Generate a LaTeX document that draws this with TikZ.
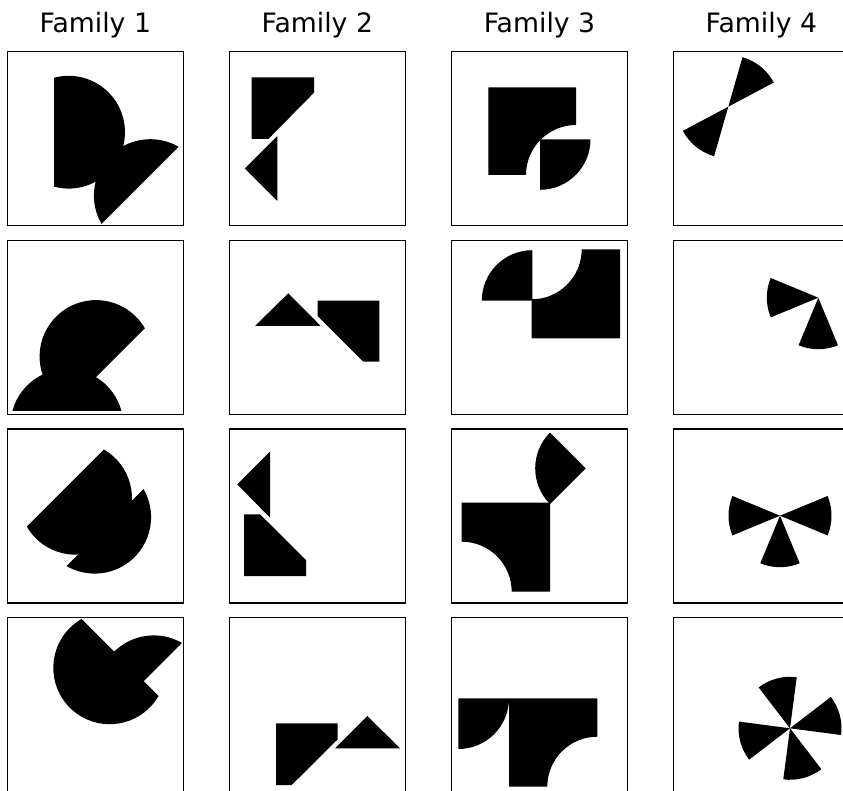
\documentclass[tikz,border=0pt]{standalone}
\usepackage{fontspec}
\setmainfont{DejaVu Sans}
\newcommand\myseg[4]{\fill[piece] (#1) ++(#3:#2) arc[start angle=#3, end angle=#4, radius=#2] -- cycle;}
\newcommand\mywedge[3]{\fill[piece] (#1) -- ++(#2:51.5) arc[start angle=#2, end angle=#3, radius=51.5] -- cycle;}
\begin{document}
\begin{tikzpicture}[x=1pt,y=-1pt,
  panel/.style={draw=black, line width=1.3pt},
  piece/.style={fill=black},
  title/.style={anchor=base, font=\fontsize{26.7}{32}\selectfont, inner sep=0pt}]
\useasboundingbox (0,0) rectangle (843,791);
\clip (0,0) rectangle (843,791);
\fill[white] (0,0) rectangle (843,791);

% titles
\node[title] (t1) at (95.3,33) {Family 1};
\node[title] (t2) at (317.3,33) {Family 2};
\node[title] (t3) at (539.5,33) {Family 3};
\node[title] (t4) at (761.3,33) {Family 4};

% panel frames
\foreach \x in {7.3,229.3,451.5,673.3}{
  \foreach \y in {51.7,240.3,429,617.6}{
    \draw[panel] (\x,\y) rectangle ++(176,174);
  }
}

% ---------- Family 1 : circle segments ----------
\myseg{68.6,132.2}{56.4}{255}{465}
\myseg{150.3,195.6}{56.4}{150}{300}
\myseg{96,356.5}{56.4}{120}{330}
\myseg{66.9,425.5}{56.4}{195}{345}
\myseg{75.6,498.3}{56.4}{300}{510}
\myseg{94.7,517.2}{56.4}{-30}{120}
\myseg{109.7,667.8}{56.4}{30}{240}
\myseg{153.8,691.8}{56.4}{150}{300}

% ---------- Family 2 : square pieces ----------
\fill[piece] (251.7,77.3) -- (314,77.3) -- (314,92.7) -- (268.3,139) -- (251.7,139) -- cycle;
\fill[piece] (277.3,136) -- (244.8,168.5) -- (277.3,201) -- cycle;
\fill[piece] (288.3,293.3) -- (255,326) -- (320.7,326) -- cycle;
\fill[piece] (317.7,300.7) -- (379.3,300.7) -- (379.3,361.7) -- (363.3,361.7) -- (317.7,316) -- cycle;
\fill[piece] (270,451.7) -- (237.3,484.3) -- (270,517.7) -- cycle;
\fill[piece] (244,514.3) -- (260,514.3) -- (306,560) -- (306,576) -- (244,576) -- cycle;
\fill[piece] (276,723.3) -- (337.7,723.3) -- (337.7,739.3) -- (291.7,785) -- (276,785) -- cycle;
\fill[piece] (367.3,716) -- (335,748.3) -- (400,748.3) -- cycle;

% ---------- Family 3 : squares and quarter discs ----------
\fill[piece] (488.3,87.3) -- (576,87.3) -- (576,125) arc[start angle=270, end angle=180, radius=50] -- (488.3,175) -- cycle;
\fill[piece] (540,139.3) -- (590.5,139.3) arc[start angle=0, end angle=90, radius=50.5] -- cycle;
\fill[piece] (532.3,300.7) -- ++(180:50.5) arc[start angle=180, end angle=270, radius=50.5] -- cycle;
\fill[piece] (531.7,338.3) -- (620,338.3) -- (620,249.3) -- (581.7,249.3) arc[start angle=0, end angle=90, radius=50] -- cycle;
\fill[piece] (585.7,468.3) -- ++(135:50.5) arc[start angle=135, end angle=225, radius=50.5] -- cycle;
\fill[piece] (461.7,502.7) -- (550,502.7) -- (550,591.7) -- (511.7,591.7) arc[start angle=360, end angle=270, radius=50] -- cycle;
\fill[piece] (458.3,698.3) -- (509,698.3) arc[start angle=0, end angle=90, radius=50.7] -- cycle;
\fill[piece] (509,698.3) -- (597.3,698.3) -- (597.3,736.7) arc[start angle=270, end angle=180, radius=50] -- (509,786.7) -- cycle;

% ---------- Family 4 : wedges ----------
\mywedge{728.3,106.7}{286}{332}
\mywedge{728.3,106.7}{106}{152}
\mywedge{818.3,297.7}{157.5}{202.5}
\mywedge{818.3,297.7}{67.5}{112.5}
\mywedge{780,515.7}{157.5}{202.5}
\mywedge{780,515.7}{-22.5}{22.5}
\mywedge{780,515.7}{67.5}{112.5}
\mywedge{790,728.3}{232.5}{277.5}
\mywedge{790,728.3}{322.5}{367.5}
\mywedge{790,728.3}{52.5}{97.5}
\mywedge{790,728.3}{142.5}{187.5}
\end{tikzpicture}
\end{document}
